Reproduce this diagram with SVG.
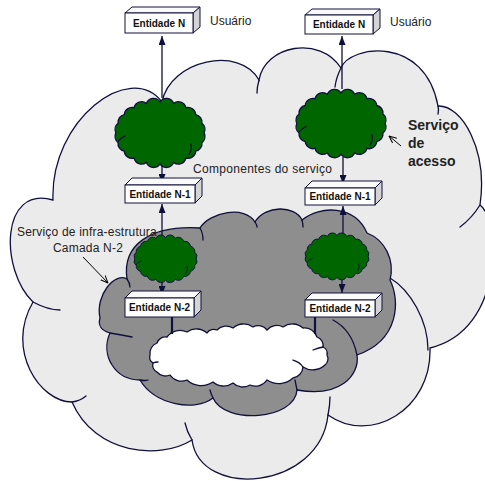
<svg xmlns="http://www.w3.org/2000/svg" width="485" height="481" viewBox="0 0 485 481">
<style>
.ol{stroke:#10103c;stroke-width:1.3;fill:none;stroke-linecap:round}
.light{fill:#ebebeb}
.gray{fill:#8e8e8e}
.white{fill:#ffffff}
.con{stroke:#10103c;stroke-width:1.3;fill:none}
.thick{stroke:#10103c;stroke-width:2.2}
.ann{stroke:#000;stroke-width:1;fill:none}
.front{fill:#fff;stroke:#10103c;stroke-width:1}
.top{fill:#fafafa;stroke:#10103c;stroke-width:1}
.side{fill:#d4d4d4;stroke:#10103c;stroke-width:1}
.bt{font-family:"Liberation Sans",Arial,sans-serif;font-weight:bold;font-size:10px;fill:#111;text-anchor:middle}
.lt{font-family:"Liberation Sans",Arial,sans-serif;font-size:12px;fill:#222}
.bl{font-family:"Liberation Sans",Arial,sans-serif;font-size:14px;font-weight:bold;fill:#222}
</style>
<defs>
<marker id="ah" viewBox="0 0 9 7" refX="9" refY="3.5" markerWidth="9" markerHeight="7" markerUnits="userSpaceOnUse" orient="auto"><path d="M0,0 L9,3.5 L0,7 z" fill="#10103c"/></marker>
<marker id="oa" viewBox="0 0 8 8" refX="7.5" refY="4" markerWidth="8" markerHeight="8" markerUnits="userSpaceOnUse" orient="auto"><path d="M0,0.8 L7.5,4 L0,7.2" fill="none" stroke="#000" stroke-width="1"/></marker>
<g id="gc">
<path d="M96,37 A8,8 0 0 1 93.7,47 A8,8 0 0 1 87.2,55.8 A8,8 0 0 1 77,62.9 A8,8 0 0 1 64.2,67.4 A8,8 0 0 1 50,69 A8,8 0 0 1 35.8,67.4 A8,8 0 0 1 23,62.9 A8,8 0 0 1 12.8,55.8 A8,8 0 0 1 6.3,46.9 A8,8 0 0 1 4,37 A8,8 0 0 1 6.3,27.1 A8,8 0 0 1 12.8,18.2 A8,8 0 0 1 23,11.1 A8,8 0 0 1 35.8,6.6 A8,8 0 0 1 50,5 A8,8 0 0 1 64.2,6.6 A8,8 0 0 1 77,11.1 A8,8 0 0 1 87.2,18.2 A8,8 0 0 1 93.7,27.1 A8,8 0 0 1 96,37 Z" fill="#006600" stroke="#10103c" stroke-width="1.4"/>
<path d="M80,60 Q84,54 82,48 M14,40 Q9,42 6,46" fill="none" stroke="#10103c" stroke-width="1.4"/>
</g>
</defs>

<g id="infra-cloud-outer">
<path class="light" d="M53,200 C50,120 130,60 162,102 C170,60 240,45 259,80 C265,45 320,35 341,68 C350,45 425,35 438,106 C462,105 488,150 480,205 C500,220 505,330 430,348 C432,410 370,445 328,415 C320,490 200,500 192,440 C160,460 95,455 72,402 C40,402 5,350 33,302 C0,270 0,185 53,200 Z"/>
<path class="ol" d="M53,200 C50,120 130,60 162,102 C170,60 240,45 259,80 C265,45 320,35 341,68 C350,45 425,35 438,106 C462,105 488,150 480,205 C500,220 505,330 430,348 C432,410 370,445 328,415 C320,490 200,500 192,440 C160,460 95,455 72,402 C40,402 5,350 33,302 C0,270 0,185 53,200 Z"/>
<path class="ol" d="M33,302 Q48,310 60,310 M72,402 Q80,401 86,396 M192,440 Q187,432 185,423 M328,415 Q330,405 330,397 M428,350 C428,320 410,290 390,278 M480,205 Q472,218 460,227 M341,68 Q336,78 335,87 M259,80 Q257,87 257,93 M438,106 Q439,110 438,114"/>
</g>

<g id="infra-cloud-n2">
<path class="gray" d="M100,318 C95,295 115,272 127,279 C122,245 150,225 200,228 C210,212 245,205 255,222 C265,205 295,205 302,220 C320,205 355,205 367,233 C385,240 395,260 390,280 C400,300 400,340 357,355 C360,375 340,398 297,390 C295,420 225,425 213,398 C195,412 155,405 140,380 C115,380 100,355 110,333 C100,330 98,325 100,318 Z"/>
<path class="ol" d="M100,318 C95,295 115,272 127,279 C122,245 150,225 200,228 C210,212 245,205 255,222 C265,205 295,205 302,220 C320,205 355,205 367,233 C385,240 395,260 390,280 C400,300 400,340 357,355 C360,375 340,398 297,390 C295,420 225,425 213,398 C195,412 155,405 140,380 C115,380 100,355 110,333 C100,330 98,325 100,318 Z"/>
<path class="ol" d="M110,333 Q122,335 132,337 M140,380 Q145,381 148,380 M213,398 Q211,394 210,390 M297,390 Q296,385 295,380 M333,320 Q352,330 357,355 M255,222 Q257,225 257,227 M302,220 Q303,224 303,227 M200,228 Q203,233 203,240 M127,279 Q130,283 130,287"/>
</g>

<g id="white-cloud">
<path class="white" stroke="#10103c" stroke-width="1.3" d="M150,355 A11,11 0 0 1 157,343 A9,9 0 0 1 167,337 A16,16 0 0 1 187,332 A16,16 0 0 1 207,333 A8,8 0 0 1 217,330 A13,13 0 0 1 233,328 A16,16 0 0 1 253,327 A11,11 0 0 1 267,330 A13,13 0 0 1 283,327 A16,16 0 0 1 303,328 A13,13 0 0 1 317,337 A9,9 0 0 1 323,347 A7,7 0 0 1 327,355 A8,8 0 0 1 325,365 A18,18 0 0 1 303,367 A12,12 0 0 1 293,378 A21,21 0 0 1 267,380 A14,14 0 0 1 250,385 A14,14 0 0 1 233,383 A16,16 0 0 1 213,382 A21,21 0 0 1 187,380 A14,14 0 0 1 170,375 A11,11 0 0 1 157,372 A8,8 0 0 1 153,363 A7,7 0 0 1 150,355 Z"/>
<path class="ol" d="M158,362 Q155,362 153,363 M293,360 Q300,362 303,367 M313,350 Q318,348 323,347"/>
</g>

<g id="connectors">
<line class="con" x1="162" y1="98" x2="162" y2="36" marker-end="url(#ah)"/>
<line class="con" x1="342" y1="89" x2="342" y2="36" marker-end="url(#ah)"/>
<line class="con" x1="162" y1="166" x2="162" y2="183" marker-end="url(#ah)"/>
<line class="con" x1="162" y1="236" x2="162" y2="204" marker-end="url(#ah)"/>
<line class="con" x1="162" y1="281" x2="162" y2="295" marker-end="url(#ah)"/>
<line class="con" x1="343" y1="157" x2="343" y2="184" marker-end="url(#ah)"/>
<line class="con" x1="343" y1="234" x2="343" y2="206" marker-end="url(#ah)"/>
<line class="con" x1="342" y1="279" x2="342" y2="293" marker-end="url(#ah)"/>
<line class="thick" x1="172" y1="317" x2="172" y2="334"/>
<line class="thick" x1="315" y1="317" x2="315" y2="334"/>
<line class="ann" x1="83" y1="257" x2="108" y2="283" marker-end="url(#oa)"/>
<line class="ann" x1="401" y1="146" x2="389" y2="136" marker-end="url(#oa)"/>
</g>

<g id="comp-n-left"><use href="#gc" transform="translate(112,97) scale(0.96,0.97)"/></g>
<g id="comp-n-right"><use href="#gc" transform="translate(293,88) scale(0.96,0.96)"/></g>
<g id="comp-n1-left"><use href="#gc" transform="translate(132,234) scale(0.67,0.67)"/></g>
<g id="comp-n1-right"><use href="#gc" transform="translate(303,232) scale(0.68,0.66)"/></g>

<g id="ent-n-left">
<polygon class="top" points="125,13 132,7 200,7 193,13"/>
<polygon class="side" points="193,13 200,7 200,27 193,33"/>
<rect class="front" x="125" y="13" width="68" height="20"/>
<text class="bt" x="159" y="27">Entidade N</text>
</g>
<g id="ent-n-right">
<polygon class="top" points="305,15 312,9 380,9 373,15"/>
<polygon class="side" points="373,15 380,9 380,28 373,34"/>
<rect class="front" x="305" y="15" width="68" height="19"/>
<text class="bt" x="339" y="28">Entidade N</text>
</g>
<g id="ent-n1-left">
<polygon class="top" points="125,185 132,178 202,178 195,185"/>
<polygon class="side" points="195,185 202,178 202,196 195,203"/>
<rect class="front" x="125" y="185" width="70" height="18"/>
<text class="bt" x="160" y="198">Entidade N-1</text>
</g>
<g id="ent-n1-right">
<polygon class="top" points="305,188 312,181 382,181 375,188"/>
<polygon class="side" points="375,188 382,181 382,198 375,205"/>
<rect class="front" x="305" y="188" width="70" height="17"/>
<text class="bt" x="340" y="200">Entidade N-1</text>
</g>
<g id="ent-n2-left">
<polygon class="top" points="125,298 132,291 201,291 194,298"/>
<polygon class="side" points="194,298 201,291 201,310 194,317"/>
<rect class="front" x="125" y="298" width="69" height="19"/>
<text class="bt" x="159.5" y="311">Entidade N-2</text>
</g>
<g id="ent-n2-right">
<polygon class="top" points="305,300 312,293 382,293 375,300"/>
<polygon class="side" points="375,300 382,293 382,310 375,317"/>
<rect class="front" x="305" y="300" width="70" height="17"/>
<text class="bt" x="340" y="312">Entidade N-2</text>
</g>

<g id="labels">
<text class="lt" x="210" y="25">Usuário</text>
<text class="lt" x="390" y="26">Usuário</text>
<text class="lt" x="193" y="173" letter-spacing="0.3">Componentes do serviço</text>
<text class="lt" x="17" y="236" letter-spacing="0.2">Serviço de infra-estrutura</text>
<text class="lt" x="53" y="252" letter-spacing="0.2">Camada N-2</text>
<text class="bl" x="408" y="130">Serviço</text>
<text class="bl" x="408" y="148">de</text>
<text class="bl" x="408" y="166">acesso</text>
</g>
</svg>
